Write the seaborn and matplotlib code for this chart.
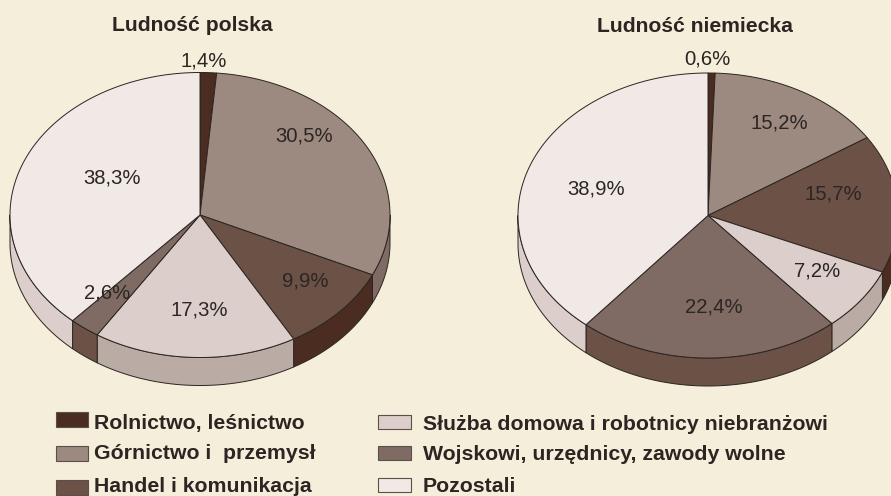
#Two tilted pies with a wall, drawn on one axes in pixel units
import numpy as np
import matplotlib
matplotlib.use("Agg")
import matplotlib.pyplot as plt
from matplotlib.patches import Polygon, Rectangle
import seaborn as sns

# Data
titles = ["Ludność polska", "Ludność niemiecka"]
categories = ["Rolnictwo, leśnictwo", "Górnictwo i  przemysł", "Handel i komunikacja",
              "Służba domowa i robotnicy niebranżowi", "Wojskowi, urzędnicy, zawody wolne", "Pozostali"]
polish = [1.4, 30.5, 9.9, 17.3, 2.6, 38.3]
german = [0.6, 15.2, 15.7, 7.2, 22.4, 38.9]

# Style
BG = "#f4eeda"
INK = "#2b2523"
top_colors = sns.color_palette(["#4b2c20", "#9c8980", "#6b5146", "#dccfcb", "#7f6b63", "#f1e9e6"])
wall_colors = sns.color_palette(["#4b2c20", "#7f6b63", "#4b2c20", "#baaca5", "#6b5146", "#dccfcb"])

sns.set_theme(style="white")
plt.rcParams["font.family"] = ["Liberation Sans", "DejaVu Sans"]

fig, ax = plt.subplots(figsize=(8.91, 4.96), dpi=100, facecolor=BG)
ax.set_position([0, 0, 1, 1])
ax.set_xlim(0, 891)
ax.set_ylim(496, 0)
ax.set_facecolor(BG)
ax.axis("off")

RX, RY, DEPTH = 190, 142.5, 28


def rim(cx, cy, a0, a1):
    # a is degrees clockwise from 12 o'clock
    t = np.radians(np.linspace(a0, a1, max(int(abs(a1 - a0)) * 2, 2)))
    return np.column_stack([cx + RX * np.sin(t), cy - RY * np.cos(t)])


def draw_pie(cx, cy, values):
    edges = np.cumsum([0] + list(values))
    edges = edges / edges[-1] * 360
    # walls first, only the front half shows
    for i in range(len(values)):
        a0, a1 = max(edges[i], 90), min(edges[i + 1], 270)
        if a0 >= a1:
            continue
        upper = rim(cx, cy, a0, a1)
        lower = (upper + [0, DEPTH])[::-1]
        ax.add_patch(Polygon(np.vstack([upper, lower]), closed=True, fc=wall_colors[i],
                             ec=INK, lw=0.7, joinstyle="round", zorder=2))
    for i in range(len(values)):
        pts = np.vstack([[cx, cy], rim(cx, cy, edges[i], edges[i + 1])])
        ax.add_patch(Polygon(pts, closed=True, fc=top_colors[i], ec=INK, lw=0.7,
                             joinstyle="round", zorder=3))


def pct(v):
    return f"{v:.1f}%".replace(".", ",")


draw_pie(200, 215, polish)
draw_pie(708, 215.5, german)

# data labels were placed by hand in the original
left_pos = [(204, 61), (304, 136), (305, 281), (199, 310), (107, 293), (112, 178)]
right_pos = [(707, 59), (779, 123), (833, 194), (817, 271), (714, 307), (596, 189)]
for vals, positions in [(polish, left_pos), (german, right_pos)]:
    for v, (x, y) in zip(vals, positions):
        ax.text(x, y, pct(v), ha="center", va="center", fontsize=14.6, color=INK, zorder=5)

ax.text(192, 31, titles[0], ha="center", va="baseline", fontsize=15.2, fontweight="bold", color=INK)
ax.text(695, 32, titles[1], ha="center", va="baseline", fontsize=15.2, fontweight="bold", color=INK)

# Legend, rows are unevenly spaced in the original
left_tops = [412, 446, 480]
left_base = [429, 459, 491.5]
right_tops = [415, 446, 478]
right_base = [430, 460, 491.5]
for k in range(3):
    ax.add_patch(Rectangle((55.5, left_tops[k]), 32.5, 14.5, fc=top_colors[k], ec="#5a4f4a", lw=0.8))
    ax.text(94, left_base[k], categories[k], ha="left", va="baseline", fontsize=15.3,
            fontweight="bold", color=INK)
    ax.add_patch(Rectangle((377.5, right_tops[k]), 33, 14, fc=top_colors[k + 3], ec="#5a4f4a", lw=0.8))
    ax.text(423, right_base[k], categories[k + 3], ha="left", va="baseline", fontsize=15.3,
            fontweight="bold", color=INK)

plt.savefig("out.png", dpi=100, facecolor=BG)
